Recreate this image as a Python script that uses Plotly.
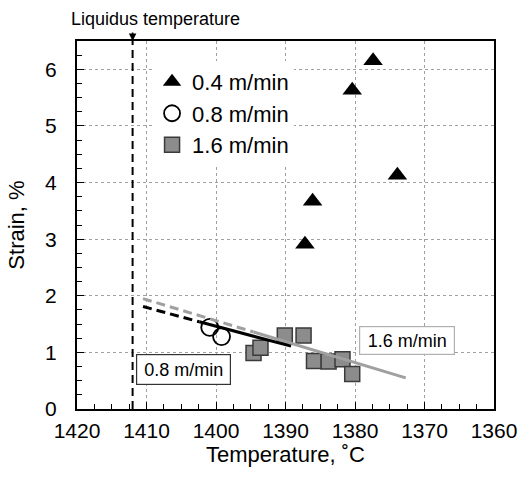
import plotly.graph_objects as go

# ---- data ----
t04 = [1377.4, 1380.4, 1373.9, 1386.1, 1387.2]
s04 = [6.15, 5.63, 4.13, 3.67, 2.91]

t08 = [1400.9, 1399.2]
s08 = [1.44, 1.28]

t16 = [1394.6, 1393.6, 1390.1, 1387.4, 1385.9, 1383.8, 1381.8, 1380.4]
s16 = [0.99, 1.08, 1.30, 1.30, 0.85, 0.84, 0.88, 0.62]

fit08_dash_t = [1410.5, 1402.4]
fit08_dash_s = [1.81, 1.54]
fit08_solid_t = [1402.4, 1389.2]
fit08_solid_s = [1.54, 1.11]

fit16_dash_t = [1410.5, 1394.6]
fit16_dash_s = [1.95, 1.36]
fit16_solid_t = [1394.6, 1372.7]
fit16_solid_s = [1.36, 0.55]

liquidus_t = 1412
x_range = [1420, 1360]
y_range = [0, 6.5]

FONT = "Liberation Sans, Arial, sans-serif"

fig = go.Figure()

fig.add_trace(go.Scatter(x=t04, y=s04, mode="markers", name="0.4 m/min",
                         legendgroup="a",
                         marker=dict(symbol="triangle-up", size=17, color="black",
                                     line=dict(width=0))))
fig.add_trace(go.Scatter(x=t08, y=s08, mode="markers", name="0.8 m/min",
                         legendgroup="b",
                         marker=dict(symbol="circle-open", size=17, color="black",
                                     line=dict(width=1.8))))
fig.add_trace(go.Scatter(x=t16, y=s16, mode="markers", name="1.6 m/min",
                         legendgroup="c",
                         marker=dict(symbol="square", size=15, color="#8c8c8c",
                                     line=dict(width=1.5, color="#3a3a3a"))))

# fit lines
fig.add_trace(go.Scatter(x=fit16_dash_t, y=fit16_dash_s, mode="lines", showlegend=False,
                         line=dict(color="#a0a0a0", width=3, dash="9px,5px")))
fig.add_trace(go.Scatter(x=fit16_solid_t, y=fit16_solid_s, mode="lines", showlegend=False,
                         line=dict(color="#a0a0a0", width=3)))
fig.add_trace(go.Scatter(x=fit08_dash_t, y=fit08_dash_s, mode="lines", showlegend=False,
                         line=dict(color="black", width=3, dash="9px,5px")))
fig.add_trace(go.Scatter(x=fit08_solid_t, y=fit08_solid_s, mode="lines", showlegend=False,
                         line=dict(color="black", width=3)))

# liquidus line
fig.add_shape(type="line", x0=liquidus_t, x1=liquidus_t, y0=y_range[0], y1=y_range[1],
              xref="x", yref="y", line=dict(color="black", width=2, dash="8px,5px"))

fig.add_annotation(x=liquidus_t, y=y_range[1], xref="x", yref="y", text="",
                   showarrow=True, arrowhead=2, arrowsize=1, arrowwidth=1.5,
                   arrowcolor="black", ax=0, ay=-10)
fig.add_annotation(x=liquidus_t, y=y_range[1], xref="x", yref="y",
                   text="Liquidus temperature", showarrow=False,
                   xanchor="center", yanchor="middle", xshift=23, yshift=22,
                   font=dict(family=FONT, size=18, color="black"))

fig.add_annotation(x=1404.7, y=0.70, xref="x", yref="y", text="0.8 m/min",
                   showarrow=False, bgcolor="white", bordercolor="#333333",
                   borderwidth=1.2, borderpad=3, width=87, height=23,
                   font=dict(family=FONT, size=18, color="black"))
fig.add_annotation(x=1372.5, y=1.21, xref="x", yref="y", text="1.6 m/min",
                   showarrow=False, bgcolor="white", bordercolor="#b0b0b0",
                   borderwidth=1.2, borderpad=3, width=88, height=21,
                   font=dict(family=FONT, size=18, color="black"))

axis_common = dict(showline=True, linecolor="black", linewidth=2, mirror=True,
                   ticks="inside", ticklen=7, tickwidth=1.2, tickcolor="black",
                   showgrid=True, gridcolor="#a0a0a0", gridwidth=1, griddash="dot",
                   zeroline=False, automargin=False,
                   tickfont=dict(family=FONT, size=21, color="black"))

fig.update_xaxes(range=x_range, dtick=10, tick0=1360, ticklabelstandoff=2,
                 title=dict(text="Temperature, ˚C", standoff=2,
                            font=dict(family=FONT, size=22, color="black")),
                 minor=dict(dtick=2.5, ticks="inside", ticklen=5, tickcolor="black",
                            showgrid=False),
                 **axis_common)
fig.update_yaxes(range=y_range, dtick=1, tick0=0, ticklabelstandoff=14,
                 title=dict(text="Strain, %", standoff=14,
                            font=dict(family=FONT, size=22, color="black")),
                 minor=dict(dtick=0.25, ticks="inside", ticklen=5, tickcolor="black",
                            showgrid=False),
                 **axis_common)

fig.update_layout(
    width=519, height=481,
    margin=dict(l=77, r=25, t=41, b=72),
    paper_bgcolor="white", plot_bgcolor="white",
    showlegend=True,
    legend=dict(x=0.18, y=0.946, xanchor="left", yanchor="top",
                bgcolor="white", borderwidth=0, traceorder="grouped",
                tracegroupgap=0, itemwidth=30,
                font=dict(family=FONT, size=22, color="black")),
    font=dict(family=FONT, color="black"),
)

# remove the page's default body margin and scrollbars so the figure fills the window
fig.write_html(
    "out.html",
    config={"displayModeBar": False},
    post_script="document.body.style.margin='0px';"
                "document.documentElement.style.overflow='hidden';"
                "document.body.style.overflow='hidden';",
)
